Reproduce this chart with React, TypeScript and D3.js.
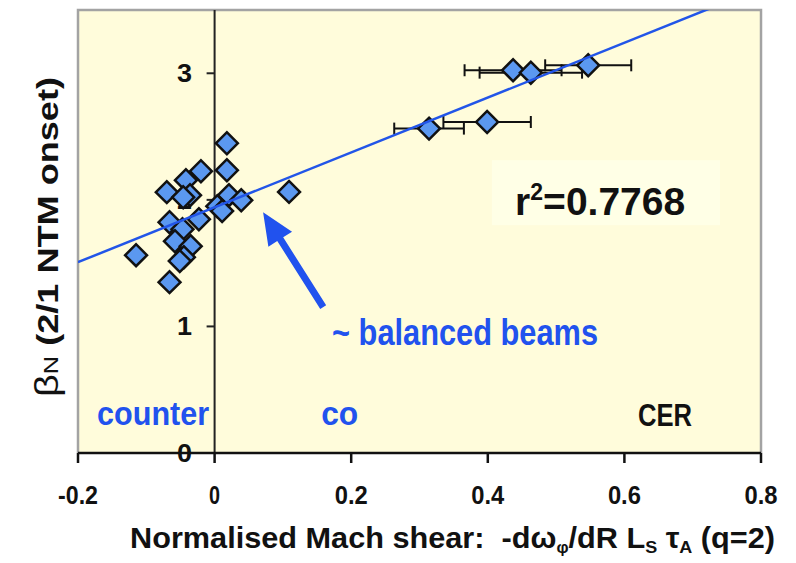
import React from 'react';
import * as d3 from 'd3';

const W = 796;
const H = 563;

// axis ticks
const xTicks = [-0.2, 0, 0.2, 0.4, 0.6, 0.8];
const xTickLabels = ['-0.2', '0', '0.2', '0.4', '0.6', '0.8'];
const yTicks = [0, 1, 2, 3];
const yTickLabels = ['0', '1', '2', '3'];

// data: normalised Mach shear vs beta_N at 2/1 NTM onset
const shear = [
  0.018, -0.02, 0.018, -0.042, -0.07, -0.036, -0.046, 0.021, 0.039, 0.004,
  0.011, -0.023, -0.066, -0.047, -0.058, -0.035, -0.045, -0.051, -0.115, -0.066,
  0.109, 0.314, 0.399, 0.437, 0.463, 0.547,
];
const betaN = [
  2.447, 2.226, 2.234, 2.155, 2.061, 2.037, 2.021, 2.037, 1.997, 1.95,
  1.911, 1.847, 1.823, 1.768, 1.673, 1.634, 1.547, 1.516, 1.563, 1.35,
  2.063, 2.563, 2.615, 3.024, 3.005, 3.063,
];
const shearErr = [
  0, 0, 0, 0, 0, 0, 0, 0, 0, 0,
  0, 0, 0, 0, 0, 0, 0, 0, 0, 0,
  0, 0.051, 0.064, 0.071, 0.075, 0.063,
];

// linear fit
const fitSlope = 2.167;
const fitIntercept = 1.941;
const fitLabel = '0.7768';

export default function App() {
  const left = 78, right = 761, top = 10, bottom = 453;
  const x = d3.scaleLinear().domain([-0.2, 0.8]).range([left, right]);
  const y = d3.scaleLinear().domain([0, 3.5]).range([bottom, top]);

  const blue = '#2152EE';
  const markerFill = '#5B98F0';
  const bold = 'bold';
  const sans = '"Liberation Sans", Arial, sans-serif';

  const diamond = d3.symbol().type(d3.symbolSquare).size(240)();

  const fitLine = d3.line<number>()
    .x((v) => x(v))
    .y((v) => y(fitIntercept + fitSlope * v));

  // arrow (data coordinates)
  const tip = [x(0.071), y(1.903)];
  const tail = [x(0.159), y(1.153)];
  const dx = tip[0] - tail[0], dy = tip[1] - tail[1];
  const len = Math.hypot(dx, dy);
  const ux = dx / len, uy = dy / len;
  const px = -uy, py = ux;
  const headLen = 32, headW = 14, shaftW = 3.5;
  const bx = tip[0] - ux * headLen, by = tip[1] - uy * headLen;
  const arrowPts = [
    [tail[0] + px * shaftW, tail[1] + py * shaftW],
    [bx + px * shaftW, by + py * shaftW],
    [bx + px * headW, by + py * headW],
    [tip[0], tip[1]],
    [bx - px * headW, by - py * headW],
    [bx - px * shaftW, by - py * shaftW],
    [tail[0] - px * shaftW, tail[1] - py * shaftW],
  ].map((p) => p.join(',')).join(' ');

  const boxX0 = x(0.406), boxX1 = x(0.74), boxY0 = y(2.313), boxY1 = y(1.8);

  return (
    <svg width={W} height={H} style={{ position: 'absolute', left: 0, top: 0, background: '#fff' }}>
      <defs>
        <clipPath id="plotClip">
          <rect x={left} y={top} width={right - left} height={bottom - top} />
        </clipPath>
      </defs>
      {/* plot background */}
      <rect x={left} y={top} width={right - left} height={bottom - top} fill="#FFFCDB" />
      <rect x={boxX0} y={boxY0} width={boxX1 - boxX0} height={boxY1 - boxY0} fill="#FFFFE6" />
      {/* border */}
      <path d={`M${left},${bottom} V${top} H${right} V${bottom}`} fill="none" stroke="#A3A3A3" strokeWidth={2.5} />

      {/* y tick labels */}
      {yTicks.map((t, i) => (
        <text key={'yl' + i} x={192} y={y(t)} dy="0.36em" textAnchor="end" fontFamily={sans} fontWeight={bold} fontSize={25} fill="#111" textLength={15} lengthAdjust="spacingAndGlyphs">
          {yTickLabels[i]}
        </text>
      ))}

      {/* y axis */}
      <line x1={x(0)} x2={x(0)} y1={top} y2={bottom} stroke="#222" strokeWidth={2} />
      {yTicks.map((t, i) => (
        <line key={'yt' + i} x1={x(0) - 8} x2={x(0)} y1={y(t)} y2={y(t)} stroke="#222" strokeWidth={2} />
      ))}

      {/* x axis */}
      <line x1={left} x2={right} y1={bottom} y2={bottom} stroke="#111" strokeWidth={2.5} />
      {xTicks.map((t, i) => (
        <line key={'xt' + i} x1={x(t)} x2={x(t)} y1={bottom} y2={bottom + 10} stroke="#111" strokeWidth={2.5} />
      ))}
      {xTicks.map((t, i) => (
        <text key={'xl' + i} x={x(t)} y={504} textAnchor="middle" fontFamily={sans} fontWeight={bold} fontSize={25} fill="#111" textLength={xTickLabels[i].length * 11 - (xTickLabels[i].includes('-') ? 4 : 0)} lengthAdjust="spacingAndGlyphs">
          {xTickLabels[i]}
        </text>
      ))}

      {/* error bars */}
      {shear.map((s, i) =>
        shearErr[i] > 0 ? (
          <g key={'eb' + i} stroke="#111" strokeWidth={2}>
            <line x1={x(s - shearErr[i])} x2={x(s + shearErr[i])} y1={y(betaN[i])} y2={y(betaN[i])} />
            <line x1={x(s - shearErr[i])} x2={x(s - shearErr[i])} y1={y(betaN[i]) - 6} y2={y(betaN[i]) + 6} />
            <line x1={x(s + shearErr[i])} x2={x(s + shearErr[i])} y1={y(betaN[i]) - 6} y2={y(betaN[i]) + 6} />
          </g>
        ) : null
      )}

      {/* markers */}
      {shear.map((s, i) => (
        <path key={'m' + i} d={diamond} transform={`translate(${x(s)},${y(betaN[i])}) rotate(45)`} fill={markerFill} stroke="#111" strokeWidth={2.5} strokeLinejoin="miter" />
      ))}

      {/* regression line */}
      <path d={fitLine([-0.2, 0.8]) || ''} fill="none" stroke="#2255E8" strokeWidth={2.5} clipPath="url(#plotClip)" />

      {/* annotations */}
      <polygon points={arrowPts} fill={blue} />
      <text x={x(0.172)} y={y(0.853)} fontFamily={sans} fontWeight={bold} fontSize={36} fill={blue} textLength={266} lengthAdjust="spacingAndGlyphs">
        ~ balanced beams
      </text>
      <text x={x(-0.172)} y={y(0.221)} fontFamily={sans} fontWeight={bold} fontSize={33} fill={blue} textLength={112} lengthAdjust="spacingAndGlyphs">
        counter
      </text>
      <text x={x(0.156)} y={y(0.221)} fontFamily={sans} fontWeight={bold} fontSize={33} fill={blue} textLength={37} lengthAdjust="spacingAndGlyphs">
        co
      </text>
      <text x={x(0.62)} y={y(0.215)} fontFamily={sans} fontWeight={bold} fontSize={31} fill="#111" textLength={54} lengthAdjust="spacingAndGlyphs">
        CER
      </text>
      <text x={x(0.44)} y={y(1.879)} fontFamily={sans} fontWeight={bold} fontSize={39} fill="#111">
        r<tspan fontSize={23} dy={-15}>2</tspan><tspan dy={15}>={fitLabel}</tspan>
      </text>

      {/* axis titles */}
      <text x={130} y={548} fontFamily={sans} fontWeight={bold} fontSize={29} fill="#111" textLength={645} lengthAdjust="spacingAndGlyphs">
        Normalised Mach shear:{'\u00a0\u00a0'}-dω<tspan fontSize={16} dy={5}>φ</tspan><tspan dy={-5}>/dR L</tspan><tspan fontSize={17} dy={5}>S</tspan><tspan dy={-5}> τ</tspan><tspan fontSize={17} dy={5}>A</tspan><tspan dy={-5}> (q=2)</tspan>
      </text>
      <text transform="translate(58,237) rotate(-90)" textAnchor="middle" fontFamily={sans} fill="#111" textLength={320} lengthAdjust="spacingAndGlyphs">
        <tspan fontSize={33} fontWeight="normal">β</tspan><tspan fontSize={21} fontWeight="normal">N</tspan><tspan fontSize={30} fontWeight={bold}> (2/1 NTM onset)</tspan>
      </text>
    </svg>
  );
}
